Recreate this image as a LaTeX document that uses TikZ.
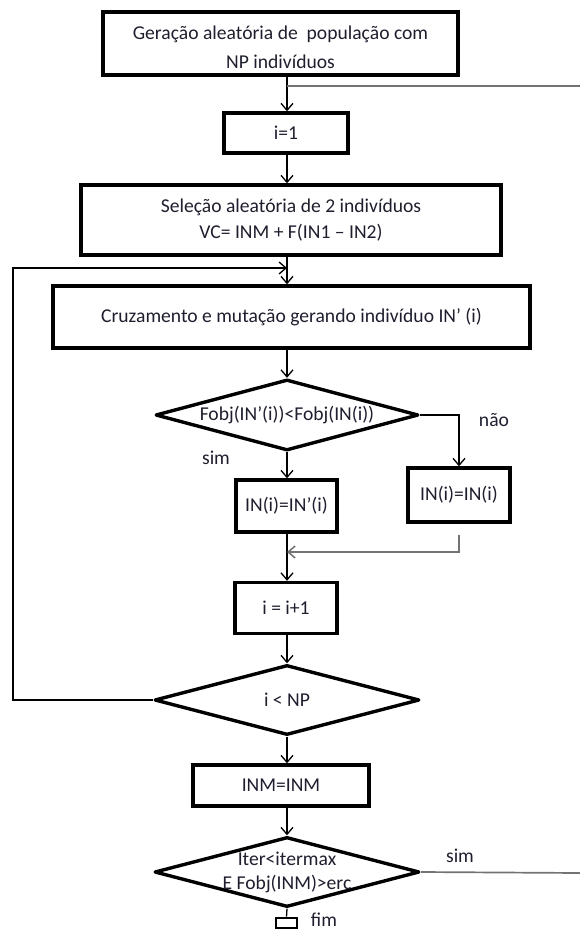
\documentclass[tikz,border=0pt]{standalone}
\usepackage{fontspec}
\setmainfont{Carlito}
\usetikzlibrary{shapes.geometric,arrows.meta}
\definecolor{txt}{HTML}{1E1E2E}
\begin{document}
\begin{tikzpicture}[x=1pt,y=-1pt,
  font=\fontsize{19.6}{24}\selectfont,
  every node/.style={text=txt},
  procbox/.style={draw,rectangle,line width=3.4pt,inner sep=0pt,align=center},
  decbox/.style={draw,diamond,line width=3.4pt,inner sep=-16pt,aspect=3.7,align=center,line join=round},
  conn/.style={line width=1.3pt,-{Straight Barb[length=7pt,width=12pt,line width=1.3pt]}},
  plain/.style={line width=1.3pt},
  grayline/.style={line width=1.7pt,draw=black!55},
  lbl/.style={inner sep=0pt}
]
\useasboundingbox (0,0) rectangle (580,934);
\coordinate (sp) at (287,0);

\node[procbox,minimum width=355pt,minimum height=63pt] (box1) at (280.5,43.5)
  {\rule{0pt}{22pt}Geração aleatória de\ \ população com\\[5pt]NP indivíduos};
\node[procbox,minimum width=124pt,minimum height=40pt] (i1) at (286,133) {i=1};
\node[procbox,minimum width=420pt,minimum height=70pt] (sel) at (291,220)
  {Seleção aleatória de 2 indivíduos\\[2pt]VC= INM + F(IN1 – IN2)};
\node[procbox,minimum width=477pt,minimum height=62pt] (cruz) at (291.5,317)
  {Cruzamento e mutação gerando indivíduo IN’ (i)};
\node[decbox,minimum width=263pt,minimum height=71pt] (d1) at (287,415)
  {Fobj(IN’(i))<Fobj(IN(i))};
\node[procbox,minimum width=101pt,minimum height=52pt] (a) at (286.5,506) {IN(i)=IN’(i)};
\node[procbox,minimum width=102pt,minimum height=54pt] (b) at (459,495) {IN(i)=IN(i)};
\node[procbox,minimum width=102pt,minimum height=51pt] (inc) at (286,608) {i = i+1};
\node[decbox,minimum width=265pt,minimum height=70pt] (d2) at (287,700) {i < NP};
\node[procbox,minimum width=176pt,minimum height=41pt] (inm) at (281,785.5) {INM=INM};
\node[decbox,minimum width=265pt,minimum height=70pt] (d3) at (287,872)
  {Iter<itermax\\E Fobj(INM)>erc};
\node[draw,rectangle,line width=2.6pt,minimum width=21pt,minimum height=10pt,inner sep=0pt] (fim) at (286.5,923) {};

\coordinate (j1) at (287,86);
\coordinate (rt1) at (580,86);
\coordinate (j2) at (287,268);
\coordinate (lp) at (13,268);
\coordinate (mg) at (287,552);
\coordinate (rt2) at (580,873);

% main spine
\draw[conn] (box1.south -| sp) -- (i1.north -| sp);
\draw[grayline] (j1) -- (rt1);
\draw[conn] (i1.south -| sp) -- (sel.north -| sp);
\draw[conn] (sel.south -| sp) -- (cruz.north -| sp);
\draw[conn] (cruz.south -| sp) -- (d1.north);
\draw[conn] (d1.south) -- (a.north -| sp);
\draw[conn] (d1.east) -| (b.north);
\draw[conn] (a.south -| sp) -- (inc.north -| sp);
\draw[grayline,-{Straight Barb[length=7pt,width=12pt,line width=1.5pt]}] ([yshift=-11pt]b.south) |- (mg);
\draw[conn] (inc.south -| sp) -- (d2.north);
\draw[conn] (d2.west) -| (lp) -- (j2);
\draw[conn] (d2.south) -- (inm.north -| sp);
\draw[conn] (inm.south -| sp) -- (d3.north);
\draw[grayline] (d3.east) -- (rt2);
\draw[plain] (d3.south) -- (fim.north);

% labels
\node[lbl] (lnao) at (494,420) {não};
\node[lbl] (lsim1) at (216,458) {sim};
\node[lbl] (lsim2) at (460,856) {sim};
\node[lbl] (lfim) at (324,920) {fim};
\end{tikzpicture}
\end{document}
